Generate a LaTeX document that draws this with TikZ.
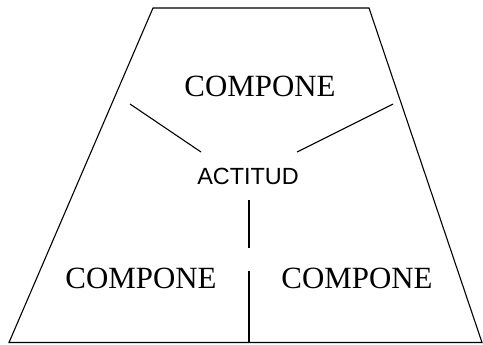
\documentclass[tikz,border=0pt]{standalone}
\usepackage{fontspec}
\setmainfont{Liberation Serif}
\newfontfamily\arialfont{Liberation Sans}
\begin{document}
\begin{tikzpicture}[x=1bp,y=-1bp,
  lbl/.style={inner sep=0pt,font=\fontsize{31}{31}\selectfont},
  core/.style={inner sep=0pt,font=\arialfont\fontsize{23.5}{23.5}\selectfont},
  edge/.style={line width=1.1bp,line cap=butt}]
\useasboundingbox (0,0) rectangle (483,344);
\coordinate (tl) at (153,8);
\coordinate (tr) at (369,8);
\coordinate (br) at (482,342.5);
\coordinate (bl) at (9,342.5);
\draw[edge,line join=miter] (tl) -- (tr) -- (br) -- (bl) -- cycle;
\node[lbl] (top) at (260,86) {COMPONE};
\node[lbl] (left) at (141,278) {COMPONE};
\node[lbl] (right) at (357,278) {COMPONE};
\node[core] (act) at (248,176) {ACTITUD};
\coordinate (a1) at (130,104);
\coordinate (a2) at (201,152);
\coordinate (b1) at (393,104);
\coordinate (b2) at (297,152);
\coordinate (c1) at (249,200);
\coordinate (c2) at (249,248);
\coordinate (d1) at (249,271);
\coordinate (d2) at (249,342.5);
\draw[edge] (a1) -- (a2);
\draw[edge] (b1) -- (b2);
\draw[edge] (c1) -- (c2);
\draw[edge] (d1) -- (d2);
\end{tikzpicture}
\end{document}
